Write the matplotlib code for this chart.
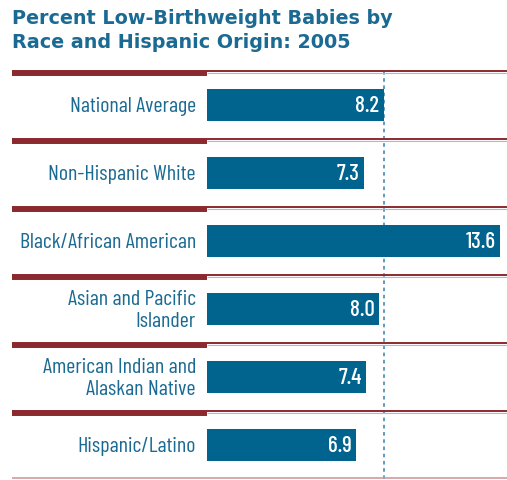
import matplotlib.pyplot as plt

# Percent low-birthweight babies, 2005
groups = ["National Average", "Non-Hispanic White", "Black/African American",
          "Asian and Pacific\nIslander", "American Indian and\nAlaskan Native",
          "Hispanic/Latino"]
values = [8.2, 7.3, 13.6, 8.0, 7.4, 6.9]
national = values[0]

BAR = "#00648f"
TEXT = "#1a6a93"
RED = "#8b2a2e"
COND = ["Barlow Condensed", "DejaVu Sans"]

W, H = 507, 480
fig = plt.figure(figsize=(W / 100, H / 100), dpi=100)

# bar area: x 207..507 px, rows from y=71 to y=479 px
ax = fig.add_axes([207 / W, 1 - 479 / H, 300 / W, (479 - 71) / H])
ax.set_xlim(0, 300 / 21.54)
ax.set_ylim(len(groups), 0)
ax.axis("off")

ypos = [i + 0.5 for i in range(len(groups))]
ax.barh(ypos, values, height=0.47, color=BAR, zorder=2)

for y, v, g in zip(ypos, values, groups):
    ax.text(v - 0.2, y + 0.02, f"{v:.1f}", color="white", ha="right", va="center",
            fontsize=16.5, fontweight=500, family=COND, zorder=3)
    ax.text(-0.037, y + 0.025, g, transform=ax.get_yaxis_transform(), color=TEXT,
            ha="right", va="center", fontsize=15.8, linespacing=1.2, family=COND)

# dashed national average line
ax.axvline(national, color="#5593bb", lw=1.3, ls=(0, (2, 2)), zorder=1)

# row separators: thick on the label side, thin over the bar side
trans = ax.get_yaxis_transform()
for i in range(len(groups)):
    ax.plot([-0.65, 0], [i + 0.035, i + 0.035], transform=trans, color=RED,
            lw=4.3, solid_capstyle="butt", clip_on=False)
    ax.plot([0, 1], [i, i], transform=trans, color=RED, lw=1.4,
            solid_capstyle="butt", clip_on=False)
    ax.plot([0, 1], [i + 0.025, i + 0.025], transform=trans, color="#d9a9ab",
            lw=0.8, solid_capstyle="butt", clip_on=False)
ax.plot([-0.65, 1], [len(groups) - 0.01] * 2, transform=trans, color="#cf9a9c",
        lw=1.2, solid_capstyle="butt", clip_on=False)

fig.text(12 / W, 1 - 9 / H, "Percent Low-Birthweight Babies by\nRace and Hispanic Origin: 2005",
         color=TEXT, fontsize=13.8, fontweight="bold", ha="left", va="top",
         linespacing=1.34, family="DejaVu Sans")

fig.savefig("out.png", dpi=100)
